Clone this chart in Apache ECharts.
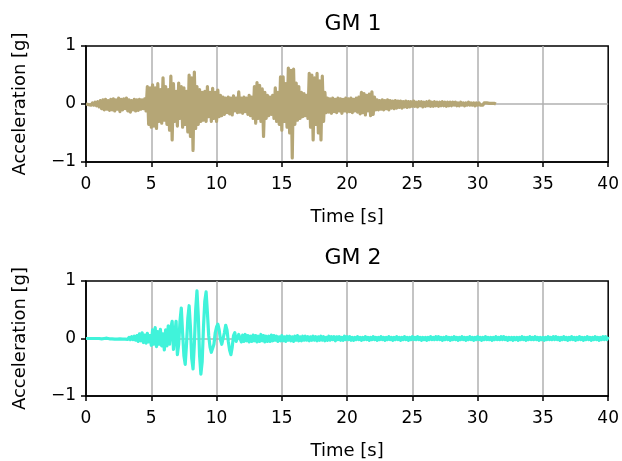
<!DOCTYPE html>
<html>
<head>
<meta charset="utf-8">
<script src="https://cdn.jsdelivr.net/npm/echarts@6/dist/echarts.min.js"></script>
<style>html,body{margin:0;padding:0;background:#fff}#c{width:622px;height:461px}</style>
</head>
<body>
<div id="c"></div>
<script>
// Sampling step of both records [s]
var dt = 0.1;
var xTicks = [0, 5, 10, 15, 20, 25, 30, 35, 40];
var yTicks = [-1, 0, 1];
var titles = ['GM 1', 'GM 2'];

// GM 1 acceleration [g], one row per second
var gm1 = [
  0, 0.01, -0.01, 0.01, -0.02, 0.02, -0.02, 0.03, -0.03, 0.04,
  -0.05, 0.06, -0.08, 0.07, -0.1, 0.08, -0.09, 0.06, -0.11, 0.08,
  -0.1, 0.09, -0.12, 0.07, -0.09, 0.1, -0.13, 0.08, -0.1, 0.09,
  -0.08, 0.1, -0.12, 0.07, -0.14, 0.06, -0.1, 0.08, -0.12, 0.07,
  -0.11, 0.08, -0.09, 0.07, -0.08, 0.09, -0.12, 0.3, -0.35, 0.28,
  -0.4, 0.33, -0.38, 0.28, -0.42, 0.35, -0.3, 0.25, -0.33, 0.45,
  -0.28, 0.3, -0.35, 0.25, -0.45, 0.48, -0.62, 0.35, -0.3, 0.22,
  -0.38, 0.36, -0.25, 0.3, -0.4, 0.28, -0.35, 0.22, -0.48, 0.5,
  -0.56, 0.45, -0.8, 0.55, -0.42, 0.3, -0.35, 0.25, -0.3, 0.2,
  -0.28, 0.22, -0.3, 0.3, -0.22, 0.2, -0.3, 0.27, -0.25, 0.2,
  -0.3, 0.24, -0.22, 0.15, -0.2, 0.12, -0.18, 0.1, -0.15, 0.12,
  -0.17, 0.1, -0.19, 0.14, -0.12, 0.1, -0.15, 0.21, -0.14, 0.1,
  -0.16, 0.12, -0.13, 0.1, -0.18, 0.15, -0.2, 0.12, -0.25, 0.3,
  -0.33, 0.37, -0.25, 0.32, -0.3, 0.26, -0.56, 0.2, -0.25, 0.15,
  -0.2, 0.12, -0.18, 0.15, -0.25, 0.28, -0.3, 0.2, -0.35, 0.47,
  -0.45, 0.47, -0.3, 0.35, -0.4, 0.62, -0.5, 0.58, -0.93, 0.6,
  -0.35, 0.36, -0.28, 0.3, -0.25, 0.2, -0.22, 0.18, -0.2, 0.15,
  -0.25, 0.53, -0.4, 0.5, -0.62, 0.45, -0.35, 0.53, -0.5, 0.4,
  -0.62, 0.48, -0.3, 0.2, -0.15, 0.1, -0.14, 0.09, -0.16, 0.1,
  -0.13, 0.08, -0.15, 0.1, -0.12, 0.09, -0.16, 0.08, -0.12, 0.1,
  -0.14, 0.09, -0.13, 0.1, -0.15, 0.08, -0.12, 0.1, -0.14, 0.12,
  -0.17, 0.2, -0.15, 0.18, -0.19, 0.15, -0.12, 0.17, -0.2, 0.21,
  -0.18, 0.12, -0.1, 0.07, -0.1, 0.06, -0.09, 0.07, -0.1, 0.06,
  -0.08, 0.07, -0.1, 0.06, -0.07, 0.05, -0.08, 0.06, -0.07, 0.05,
  -0.06, 0.05, -0.07, 0.04, -0.05, 0.05, -0.06, 0.04, -0.05, 0.04,
  -0.04, 0.05, -0.04, 0.03, -0.05, 0.04, -0.03, 0.04, -0.05, 0.03,
  -0.04, 0.04, -0.03, 0.05, -0.04, 0.03, -0.04, 0.04, -0.03, 0.03,
  -0.04, 0.03, -0.03, 0.04, -0.03, 0.03, -0.04, 0.03, -0.03, 0.03,
  -0.03, 0.03, -0.02, 0.03, -0.03, 0.02, -0.03, 0.03, -0.02, 0.02,
  -0.03, 0.02, -0.02, 0.03, -0.02, 0.02, -0.02, 0.02, -0.03, 0.02,
  -0.02, 0.02, -0.02, 0.01, -0.02, 0.02, -0.01, 0.02, -0.01, 0.01,
  -0.01, 0.01, -0.01, 0.01, 0
];

// GM 2 acceleration [g], one row per second
var gm2 = [
  0, 0, 0, 0, 0, 0, 0, 0, 0, 0,
  0, 0.005, -0.005, 0.005, 0, -0.005, 0.005, 0, -0.005, 0.005,
  -0.005, 0.01, -0.01, 0.005, -0.01, 0.01, -0.005, 0.01, -0.01, 0.01,
  -0.01, 0.02, -0.015, 0.02, -0.02, 0.03, -0.02, 0.04, -0.03, 0.05,
  -0.05, 0.08, -0.04, 0.1, -0.07, 0.06, -0.08, 0.09, -0.06, 0.05,
  -0.12, 0.15, -0.1, 0.19, -0.14, 0.12, -0.1, 0.16, -0.13, 0.08,
  -0.2, 0.15, -0.13, 0.22, -0.1, 0.18, 0.3, -0.19, 0.05, 0.3,
  -0.28, -0.1, 0.3, 0.53, 0.1, -0.3, -0.45, -0.1, 0.35, 0.57,
  0.2, -0.35, -0.53, -0.1, 0.5, 0.83, 0.4, -0.3, -0.62, -0.4,
  0.2, 0.65, 0.81, 0.45, 0.05, -0.15, -0.24, -0.26, -0.1, 0.1,
  0.2, 0.25, 0.15, -0.02, -0.1, -0.08, 0.1, 0.23, 0.15, -0.05,
  -0.2, -0.28, -0.15, 0.05, 0.1, -0.05, -0.08, 0.07, 0.05, -0.06,
  0.06, -0.05, 0.07, -0.04, 0.05, -0.06, 0.04, -0.05, 0.06, -0.04,
  0.05, -0.06, 0.04, -0.05, 0.07, -0.04, 0.05, -0.06, 0.04, -0.05,
  0.04, -0.05, 0.06, -0.04, 0.05, -0.03, 0.04, -0.05, 0.03, -0.04,
  0.05, -0.04, 0.03, -0.05, 0.04, -0.03, 0.04, -0.04, 0.03, -0.05,
  0.04, -0.03, 0.05, -0.04, 0.03, -0.04, 0.04, -0.03, 0.04, -0.03,
  0.03, -0.04, 0.03, -0.03, 0.04, -0.03, 0.03, -0.04, 0.03, -0.03,
  0.04, -0.03, 0.03, -0.04, 0.02, -0.03, 0.04, -0.03, 0.03, -0.02,
  0.03, -0.04, 0.03, -0.02, 0.03, -0.03, 0.02, -0.03, 0.04, -0.02,
  0.03, -0.02, 0.03, -0.03, 0.02, -0.03, 0.02, -0.02, 0.03, -0.02,
  0.02, -0.03, 0.02, -0.02, 0.03, -0.02, 0.02, -0.03, 0.02, -0.02,
  0.03, -0.02, 0.02, -0.03, 0.02, -0.02, 0.03, -0.02, 0.02, -0.03,
  0.02, -0.02, 0.03, -0.02, 0.02, -0.03, 0.02, -0.02, 0.03, -0.02,
  0.02, -0.03, 0.02, -0.02, 0.03, -0.02, 0.02, -0.03, 0.02, -0.02,
  0.03, -0.02, 0.02, -0.02, 0.03, -0.02, 0.02, -0.03, 0.02, -0.02,
  0.02, -0.03, 0.02, -0.02, 0.03, -0.02, 0.02, -0.02, 0.03, -0.02,
  0.03, -0.02, 0.02, -0.03, 0.02, -0.02, 0.03, -0.02, 0.02, -0.03,
  0.02, -0.02, 0.03, -0.02, 0.02, -0.03, 0.02, -0.02, 0.03, -0.02,
  0.02, -0.03, 0.02, -0.02, 0.03, -0.02, 0.02, -0.03, 0.02, -0.02,
  0.03, -0.02, 0.02, -0.03, 0.02, -0.02, 0.03, -0.02, 0.02, -0.02,
  0.02, -0.03, 0.02, -0.02, 0.03, -0.02, 0.02, -0.02, 0.03, -0.02,
  0.03, -0.02, 0.02, -0.03, 0.02, -0.02, 0.02, -0.03, 0.02, -0.02,
  0.02, -0.03, 0.02, -0.02, 0.03, -0.02, 0.02, -0.03, 0.02, -0.02,
  0.03, -0.02, 0.02, -0.02, 0.03, -0.02, 0.02, -0.03, 0.02, -0.02,
  0.02, -0.03, 0.02, -0.02, 0.03, -0.02, 0.02, -0.02, 0.03, -0.02,
  0.03, -0.02, 0.02, -0.03, 0.02, -0.02, 0.03, -0.02, 0.02, -0.03,
  0.02, -0.02, 0.03, -0.02, 0.02, -0.03, 0.02, -0.02, 0.03, -0.02,
  0.02, -0.03, 0.02, -0.02, 0.03, -0.02, 0.02, -0.03, 0.02, -0.02,
  0.03, -0.02, 0.02, -0.03, 0.02, -0.02, 0.03, -0.02, 0.03, -0.02,
  0.03
];

function toPairs(arr) {
  return arr.map(function (v, i) { return [Math.round(i * dt * 1000) / 1000, v]; });
}

var FONT = 'DejaVu Sans';
var grids = [
  { left: 86, right: 11, top: 46, height: 116 },
  { left: 86, right: 11, top: 281, height: 115 }
];
var titleTops = [8, 242];
var colors = ['#b5a676', '#40f3da'];
var dataSets = [gm1, gm2];

function xAxisFor(i) {
  return {
    type: 'value', gridIndex: i, min: xTicks[0], max: xTicks[xTicks.length - 1], interval: 5,
    name: 'Time [s]', nameLocation: 'middle', nameGap: 46,
    nameTextStyle: { fontFamily: FONT, fontSize: 18, color: '#000' },
    axisLine: { show: true, onZero: false, lineStyle: { color: '#000', width: 1.5 } },
    axisTick: { show: true, length: 5, lineStyle: { color: '#000', width: 1.5 } },
    axisLabel: { fontFamily: FONT, fontSize: 17, color: '#000', margin: 14 },
    splitLine: { show: true, showMinLine: false, showMaxLine: false, lineStyle: { color: '#b0b0b0', width: 1.5 } }
  };
}
function yAxisFor(i) {
  return {
    type: 'value', gridIndex: i, min: yTicks[0], max: yTicks[yTicks.length - 1], interval: 1,
    name: 'Acceleration [g]', nameLocation: 'middle', nameGap: 57,
    nameTextStyle: { fontFamily: FONT, fontSize: 18, color: '#000' },
    axisLine: { show: true, onZero: false, lineStyle: { color: '#000', width: 1.5 } },
    axisTick: { show: true, length: 5, lineStyle: { color: '#000', width: 1.5 } },
    axisLabel: { fontFamily: FONT, fontSize: 17, color: '#000', margin: 10,
      formatter: function (v) { return String(v).replace('-', '\u2212'); } },
    splitLine: { show: true, showMinLine: false, showMaxLine: false, lineStyle: { color: '#b0b0b0', width: 1.5 } }
  };
}

var option = {
  animation: false,
  backgroundColor: '#fff',
  title: titles.map(function (t, i) {
    return { text: t, left: 348, top: titleTops[i], textAlign: 'center',
      textStyle: { fontFamily: FONT, fontSize: 22, fontWeight: 'normal', color: '#000' } };
  }),
  grid: grids.map(function (g) {
    return Object.assign({ show: true, borderColor: '#000', borderWidth: 1.5, backgroundColor: 'transparent' }, g);
  }),
  xAxis: [xAxisFor(0), xAxisFor(1)],
  yAxis: [yAxisFor(0), yAxisFor(1)],
  series: dataSets.map(function (d, i) {
    return {
      type: 'line', xAxisIndex: i, yAxisIndex: i, data: toPairs(d),
      showSymbol: false, symbol: 'none', clip: true,
      lineStyle: { color: colors[i], width: 3.2, join: 'round' }, z: 1
    };
  })
};

var chart = echarts.init(document.getElementById('c'), null, { renderer: 'canvas' });
chart.setOption(option);
</script>
</body>
</html>
